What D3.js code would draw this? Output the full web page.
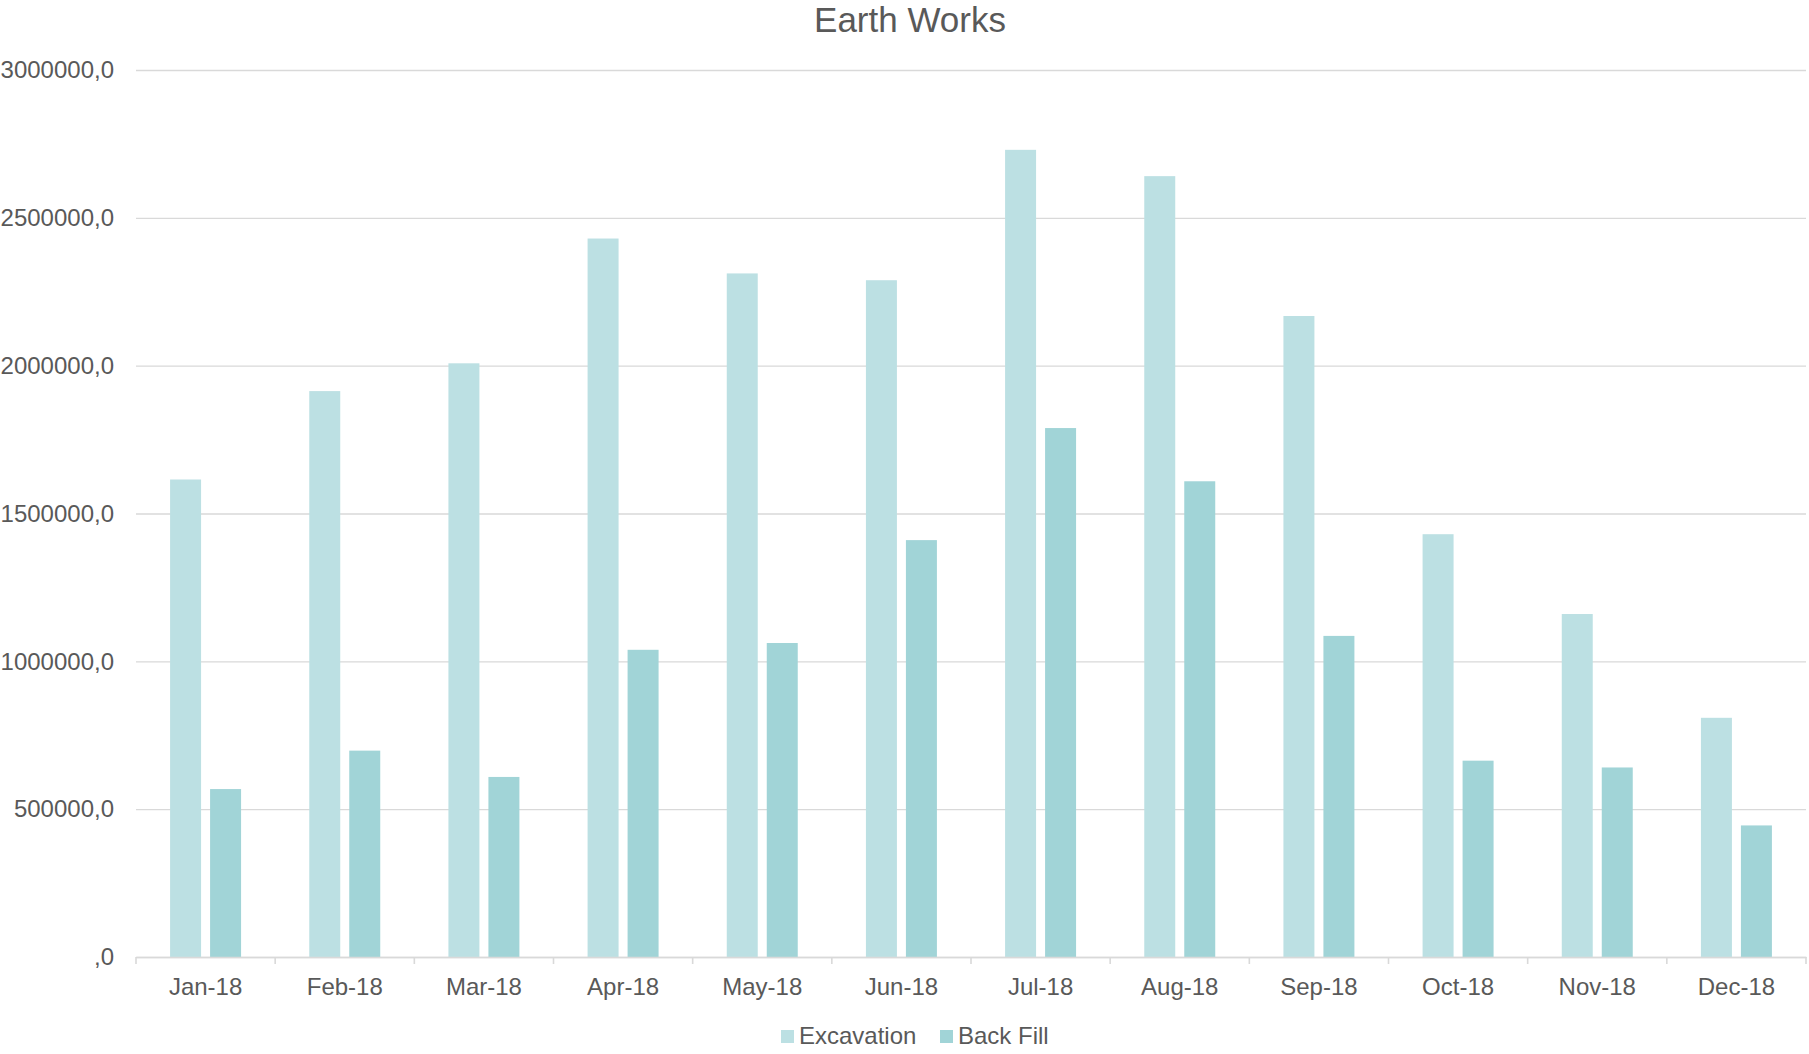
<!DOCTYPE html>
<html>
<head>
<meta charset="utf-8">
<script src="https://cdn.jsdelivr.net/npm/d3@7"></script>
<style>
	body { margin: 0; background: #fff; }
	svg { display: block; font-family: 'Liberation Sans', Arial, sans-serif; }
</style>
</head>
<body>
<div id="chart"></div>
<script>
'use strict';

var months = ['Jan-18', 'Feb-18', 'Mar-18', 'Apr-18', 'May-18', 'Jun-18', 'Jul-18', 'Aug-18', 'Sep-18', 'Oct-18', 'Nov-18', 'Dec-18'];
var excavation = [1615000, 1914000, 2008000, 2430000, 2312000, 2289000, 2730000, 2641000, 2168000, 1430000, 1160000, 809000];
var backFill = [568000, 698000, 609000, 1039000, 1062000, 1410000, 1789000, 1609000, 1086000, 664000, 641000, 445000];
var yTicks = [0, 500000, 1000000, 1500000, 2000000, 2500000, 3000000];
var seriesNames = ['Excavation', 'Back Fill'];
var colors = ['#bce0e3', '#a1d4d7'];

(function() {
	var width = 1809;
	var height = 1054;
	var plotLeft = 136;
	var plotRight = 1806;
	var plotTop = 70;
	var plotBottom = 957;
	var textColor = '#595959';
	var gridColor = '#d9d9d9';

	var svg = d3.select('#chart').append('svg')
		.attr('width', width)
		.attr('height', height);

	var x = d3.scaleBand()
		.domain(months)
		.range([plotLeft, plotRight]);

	// the two bars of a month sit in the middle of its band
	var barW = x.bandwidth() * 0.2227;
	var barGap = x.bandwidth() * 0.0647;
	var x1 = d3.scaleOrdinal()
		.domain(seriesNames)
		.range([x.bandwidth() / 2 - barGap / 2 - barW, x.bandwidth() / 2 + barGap / 2]);

	var y = d3.scaleLinear()
		.domain([0, 3000000])
		.range([plotBottom, plotTop]);

	var fmt = function(v) {
		return v === 0 ? ',0' : v + ',0';
	};

	/*
		gridlines + y labels
	*/
	var yAxis = svg.append('g')
		.attr('transform', 'translate(' + plotLeft + ',0)')
		.call(d3.axisLeft(y).tickValues(yTicks).tickFormat(fmt).tickSizeInner(-(plotRight - plotLeft)).tickSizeOuter(0).tickPadding(22));
	yAxis.select('.domain').remove();
	yAxis.selectAll('line')
		.style('stroke', gridColor)
		.style('stroke-width', 1.4);
	yAxis.selectAll('text')
		.style('fill', textColor)
		.style('font-size', '24px')
		.style('font-family', "'Liberation Sans', Arial, sans-serif");

	/*
		bars
	*/
	var series = [excavation, backFill];
	series.forEach(function(values, s) {
		svg.append('g').selectAll('rect')
			.data(values)
			.enter()
			.append('rect')
			.attr('x', function(d, i) { return x(months[i]) + x1(seriesNames[s]); })
			.attr('y', function(d) { return y(d); })
			.attr('width', barW)
			.attr('height', function(d) { return y(0) - y(d); })
			.style('fill', colors[s]);
	});

	/*
		x axis, ticks between the months
	*/
	var xAxis = svg.append('g')
		.attr('transform', 'translate(0,' + plotBottom + ')')
		.call(d3.axisBottom(x).tickSize(0).tickPadding(21));
	xAxis.select('.domain')
		.style('stroke', gridColor)
		.style('stroke-width', 1.6);
	xAxis.selectAll('text')
		.style('fill', textColor)
		.style('font-size', '24px')
		.style('font-family', "'Liberation Sans', Arial, sans-serif");
	var bounds = months.map(function(m) { return x(m); }).concat([plotRight]);
	xAxis.selectAll('.sep')
		.data(bounds)
		.enter()
		.append('line')
		.attr('class', 'sep')
		.attr('x1', function(d) { return d; })
		.attr('x2', function(d) { return d; })
		.attr('y1', 0)
		.attr('y2', 7)
		.style('stroke', gridColor)
		.style('stroke-width', 1.6);

	/*
		title
	*/
	svg.append('text')
		.attr('x', 910)
		.attr('y', 32)
		.attr('text-anchor', 'middle')
		.style('fill', textColor)
		.style('font-size', '35px')
		.text('Earth Works');

	/*
		legend
	*/
	var legendX = [781, 940];
	var legend = svg.append('g');
	seriesNames.forEach(function(name, i) {
		legend.append('rect')
			.attr('x', legendX[i])
			.attr('y', 1030)
			.attr('width', 13)
			.attr('height', 13)
			.style('fill', colors[i]);
		legend.append('text')
			.attr('x', legendX[i] + 18)
			.attr('y', 1044)
			.style('fill', textColor)
			.style('font-size', '24px')
			.text(name);
	});
})();
</script>
</body>
</html>
